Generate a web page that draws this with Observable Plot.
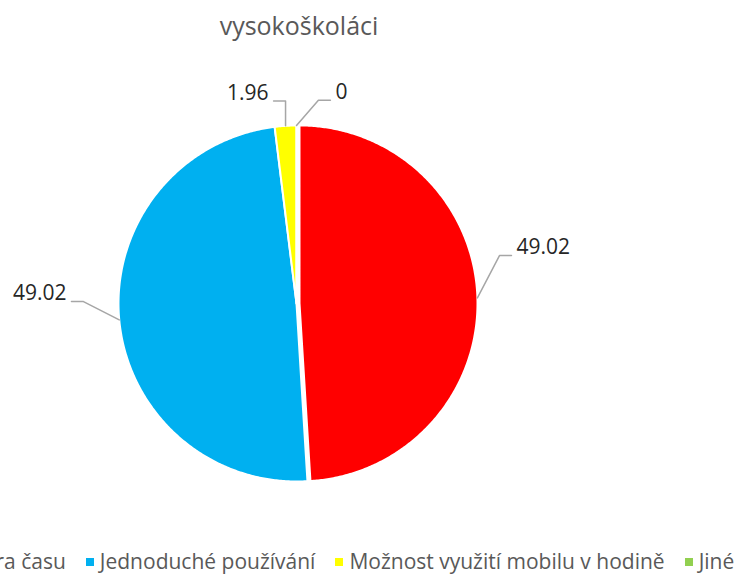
<!DOCTYPE html>
<html>
<head>
<meta charset="utf-8">
<script src="https://cdn.jsdelivr.net/npm/d3@7"></script>
<script src="https://cdn.jsdelivr.net/npm/@observablehq/plot@0.6"></script>
<style>
  html, body { margin: 0; padding: 0; background: #fff; width: 735px; height: 575px; overflow: hidden; }
  #title { width: 735px; height: 50px; box-sizing: border-box; padding-top: 13px; padding-right: 137px;
           text-align: center; font-family: "Open Sans", sans-serif; font-size: 25px; line-height: 25px; color: #595959; }
  #chart { width: 735px; height: 490px; }
  #chart svg { display: block; }
  #legend { position: relative; left: -35px; width: 735px; height: 35px; box-sizing: border-box; padding-top: 11px;
            display: flex; justify-content: center; white-space: nowrap;
            font-family: "Open Sans", sans-serif; font-size: 21px; line-height: 21px; color: #595959; }
  #legend .item { display: inline-block; margin: 0 10px; flex: none; }
  #legend .sw { display: inline-block; width: 8px; height: 8px; margin-right: 6px; vertical-align: middle; position: relative; top: -1px; }
</style>
</head>
<body>
<div id="title">vysokoškoláci</div>
<div id="chart"></div>
<div id="legend"></div>
<script>
// ---- data ----
const categories = ["Úspora času", "Jednoduché používání", "Možnost využití mobilu v hodině", "Jiné"];
const values = [49.02, 49.02, 1.96, 0];
const valueLabels = ["49.02", "49.02", "1.96", "0"];
const colors = ["#FF0000", "#00B0F0", "#FFFF00", "#92D050"];

// ---- layout (not data) ----
const W = 735, H = 490;
const CX = 296, CY = 253;       // pie centre inside the svg
const R = 178;                  // pie radius
const explodeFirst = 3;         // first slice pulled out slightly
const labelNudge = [-11, 7.5, -9.5, 12];   // degrees, label placement like the original
const labelRadius = [253, 257, 216, 216];
const FONT = '"Open Sans", sans-serif';
const labelSize = 21;

const rad = Math.PI / 180;
const arcs = d3.pie().sort(null).value(d => d)(values);

// slice polygons
const slicePts = [];
arcs.forEach((p, i) => {
  const cat = categories[i];
  const mid = (p.startAngle + p.endAngle) / 2;
  const off = i === 0 ? explodeFirst : 0;
  const ox = off * Math.sin(mid), oy = -off * Math.cos(mid);
  const n = Math.max(1, Math.ceil((p.endAngle - p.startAngle) / (0.5 * rad)));
  slicePts.push({cat, x: ox, y: oy});
  for (let k = 0; k <= n; k++) {
    const a = p.startAngle + (p.endAngle - p.startAngle) * k / n;
    slicePts.push({cat, x: ox + R * Math.sin(a), y: oy - R * Math.cos(a)});
  }
  slicePts.push({cat, x: ox, y: oy});
});

// label measurement
const ctx = document.createElement("canvas").getContext("2d");
ctx.font = `${labelSize}px ${FONT}`;

const labelData = [];
const leaderPts = [];
arcs.forEach((p, i) => {
  const mid = (p.startAngle + p.endAngle) / 2;
  const off = i === 0 ? explodeFirst : 0;
  const a = mid + labelNudge[i] * rad;
  const r = labelRadius[i];
  const tx = r * Math.sin(a), ty = -r * Math.cos(a);
  labelData.push({x: tx, y: ty, text: valueLabels[i]});
  const w = ctx.measureText(valueLabels[i]).width;
  const side = tx >= 0 ? 1 : -1;
  const ax = (R + off) * Math.sin(mid), ay = -(R + off) * Math.cos(mid);
  const ex = tx - side * (w / 2 + 5), ey = ty + 8;
  let bx = ex - side * 12;
  if (side * (bx - ax) < 0) bx = ax;
  leaderPts.push({i, x: ax, y: ay}, {i, x: bx, y: ey}, {i, x: ex, y: ey});
});

const chart = Plot.plot({
  width: W,
  height: H,
  margin: 0,
  style: {background: "white", overflow: "visible"},
  x: {domain: [-CX, W - CX], range: [0, W], axis: null},
  y: {domain: [-CY, H - CY], range: [0, H], axis: null},
  color: {domain: categories, range: colors},
  marks: [
    Plot.line(slicePts, {x: "x", y: "y", z: "cat", fill: "cat", stroke: "white", strokeWidth: 2, strokeLinejoin: "round", curve: "linear"}),
    Plot.line(leaderPts, {x: "x", y: "y", z: "i", stroke: "#A6A6A6", strokeWidth: 1.5, curve: "linear"}),
    Plot.text(labelData, {x: "x", y: "y", text: "text", fontSize: labelSize, fontFamily: FONT, fill: "#262626"})
  ]
});
document.getElementById("chart").appendChild(chart);

// legend
const legend = document.getElementById("legend");
categories.forEach((c, i) => {
  const item = document.createElement("span");
  item.className = "item";
  const sw = document.createElement("span");
  sw.className = "sw";
  sw.style.background = colors[i];
  item.appendChild(sw);
  item.appendChild(document.createTextNode(c));
  legend.appendChild(item);
});
</script>
</body>
</html>
